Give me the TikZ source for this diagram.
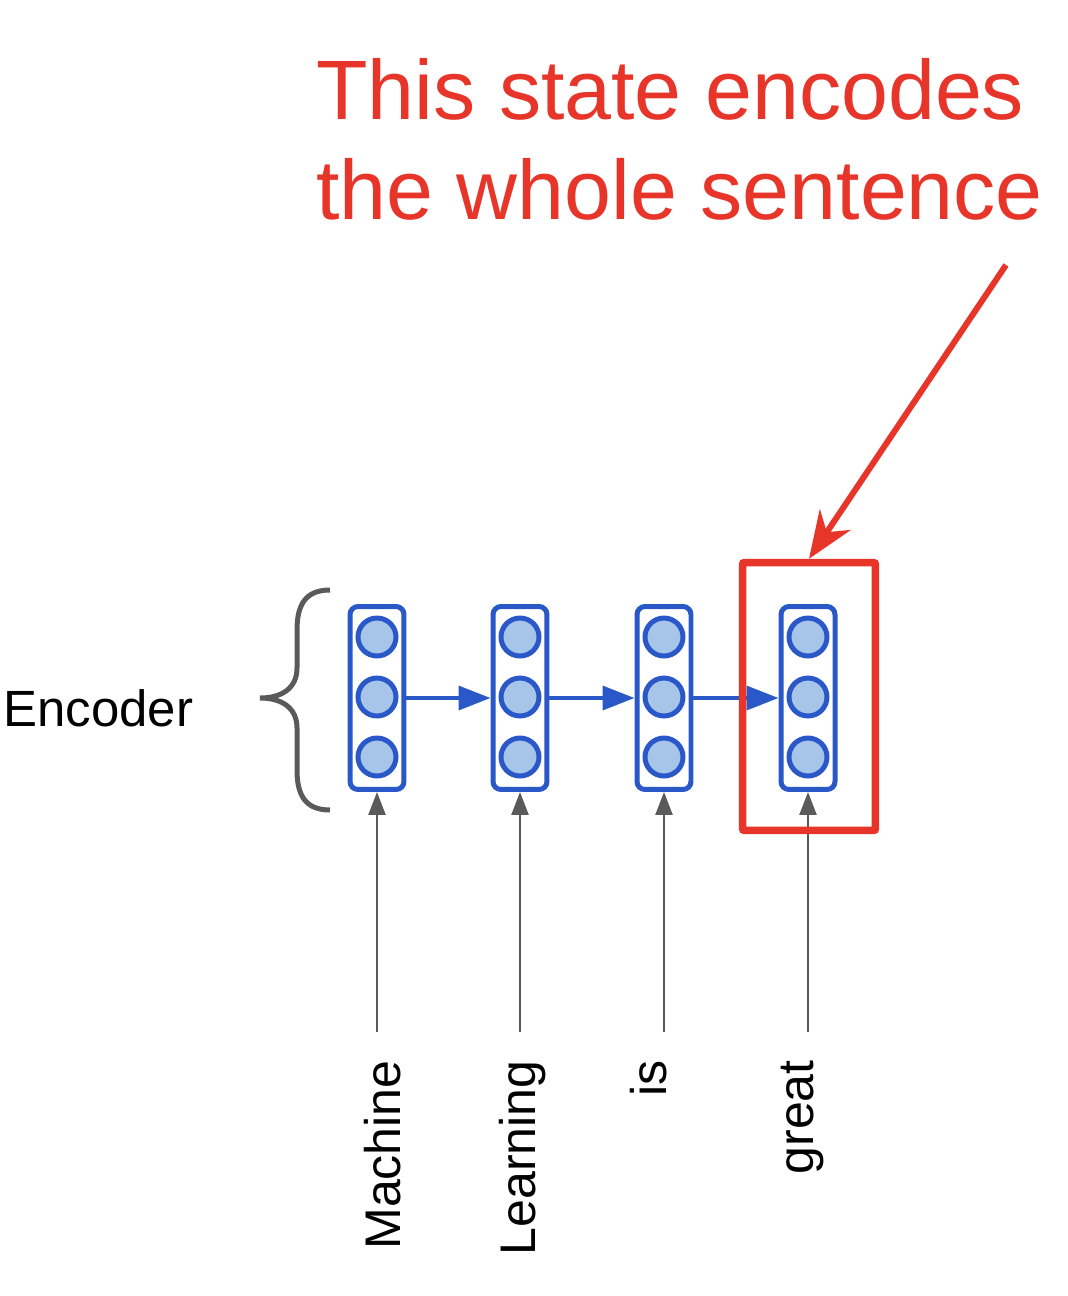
\documentclass[tikz,border=0pt]{standalone}
\usepackage{fontspec}
\setmainfont{Liberation Sans}
\usetikzlibrary{arrows.meta}
\definecolor{cellblue}{HTML}{2A58C8}
\definecolor{unitfill}{HTML}{A7C5E8}
\definecolor{hired}{HTML}{E8352A}
\definecolor{wiregray}{HTML}{5A5A5A}
\begin{document}
\begin{tikzpicture} [x=0.02cm,y=-0.02cm,
		cellbox/.style={draw=cellblue,line width=0.1cm,rounded corners=0.16cm,minimum width=1.08cm,minimum height=3.66cm,inner sep=0},
		unitdot/.style={circle,draw=cellblue,fill=unitfill,line width=0.1cm,minimum size=0.76cm,inner sep=0},
		stepline/.style={draw=cellblue,line width=0.07cm,-{Triangle[length=0.64cm,width=0.48cm]}},
		inputline/.style={draw=wiregray,line width=0.05cm,-{Triangle[length=0.46cm,width=0.34cm]}},
		wordlabel/.style={rotate=90,anchor=east,inner sep=0,font=\fontsize{28.5pt}{34pt}\selectfont},
		enclabel/.style={inner sep=0,font=\fontsize{29pt}{34pt}\selectfont},
		bracepath/.style={draw=wiregray,line width=0.1cm},
		focusbox/.style={draw=hired,line width=0.15cm,minimum width=2.66cm,minimum height=5.36cm,rounded corners=0.04cm,inner sep=0},
		focusarrow/.style={draw=hired,line width=0.12cm,-{Stealth[length=0.94cm,width=0.74cm,inset=0.3cm]}},
		notetext/.style={text=hired,align=left,inner sep=0,font=\fontsize{48pt}{56.9pt}\selectfont}]
	\useasboundingbox (0,0) rectangle (1068,1296);
	\foreach \i/\x/\w/\wx in {1/377/Machine/383,2/520/Learning/523,3/664/is/649,4/808/great/803} {
		\node [cellbox] (c\i) at (\x,698) {};
		\foreach \k/\y in {1/637,2/697,3/757}
			\node [unitdot] (u\i-\k) at (\x,\y) {};
		\coordinate (in\i) at (\x,1032);
		\node [wordlabel] (w\i) at (\wx,1060) {\w};
		\draw [inputline] (in\i) -- (c\i.south);
	}
	\foreach \a/\b in {1/2,2/3,3/4}
		\draw [stepline] (c\a.east) -- (c\b.west);
	\draw [bracepath] (330,590) .. controls (306,590) and (297,604) .. (297,630) -- (297,668)
		.. controls (297,688) and (282,698) .. (260,698)
		.. controls (282,698) and (297,708) .. (297,728) -- (297,770)
		.. controls (297,796) and (306,810) .. (330,810);
	\node [enclabel, anchor=base west] (enc) at (3,726) {Encoder};
	\node [focusbox] (focus) at (809,696.5) {};
	\node [notetext, anchor=north west] (note) at (316,58) {This state encodes\\the whole sentence};
	\coordinate (tail) at (1006,265);
	\draw [focusarrow] (tail) -- (focus.north);
\end{tikzpicture}
\end{document}
